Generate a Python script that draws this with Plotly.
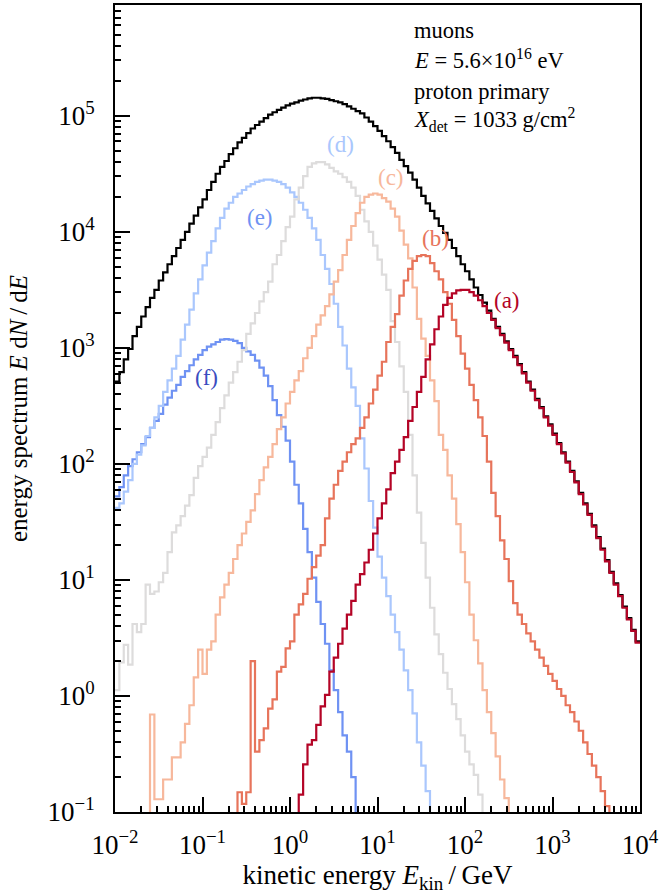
import numpy as np
import plotly.graph_objects as go

# 20 logarithmic bins per decade of kinetic energy, 1e-2 ... 1e4 GeV
bin_edges = np.logspace(-2, 4, 121)
N_BINS = len(bin_edges) - 1

# log10(E dN/dE) per bin; each list covers consecutive bins from its start index
start_total = 0
log_total = [
    2.71, 2.79, 2.90, 2.99, 3.10, 3.18, 3.27, 3.35, 3.43, 3.50,
    3.58, 3.65, 3.72, 3.79, 3.86, 3.93, 4.00, 4.07, 4.14, 4.21,
    4.28, 4.36, 4.43, 4.50, 4.56, 4.61, 4.67, 4.72, 4.77, 4.81,
    4.85, 4.89, 4.92, 4.95, 4.98, 5.01, 5.03, 5.05, 5.07, 5.09,
    5.105, 5.115, 5.13, 5.14, 5.15, 5.155, 5.155, 5.15, 5.145, 5.135,
    5.125, 5.115, 5.10, 5.08, 5.06, 5.04, 5.02, 4.985, 4.95, 4.91,
    4.87, 4.825, 4.78, 4.73, 4.68, 4.62, 4.565, 4.51, 4.45, 4.38,
    4.31, 4.245, 4.18, 4.115, 4.05, 3.99, 3.93, 3.86, 3.79, 3.72,
    3.66, 3.59, 3.52, 3.455, 3.39, 3.32, 3.25, 3.18, 3.12, 3.055,
    2.99, 2.93, 2.86, 2.79, 2.71, 2.64, 2.56, 2.49, 2.41, 2.34,
    2.26, 2.18, 2.10, 2.02, 1.94, 1.85, 1.75, 1.66, 1.57, 1.47,
    1.37, 1.27, 1.17, 1.07, 0.97, 0.87, 0.77, 0.67, 0.57, 0.47,
]

start_a = 41
log_a = [
    -1.30, -0.85, -0.59, -0.42, -0.38, -0.25, -0.09, 0.01, 0.21,
    0.33, 0.45, 0.58, 0.70, 0.82, 0.96, 1.05, 1.15, 1.26, 1.40,
    1.53, 1.66, 1.78, 1.92, 2.02, 2.12, 2.23, 2.37, 2.49, 2.62,
    2.75, 2.90, 3.03, 3.16, 3.27, 3.37, 3.43, 3.47, 3.495, 3.50,
    3.50, 3.48, 3.45, 3.41, 3.36, 3.30, 3.24, 3.17,
    3.11, 3.045, 2.98, 2.92, 2.85, 2.78, 2.70, 2.63, 2.55, 2.48,
    2.40, 2.33, 2.25, 2.17, 2.09, 2.01, 1.93, 1.84, 1.74, 1.65,
    1.56, 1.46, 1.36, 1.26, 1.16, 1.06, 0.96, 0.86, 0.76, 0.66,
    0.56, 0.46,
]

start_b = 28
log_b = [
    -0.83, -0.93, -0.83, 0.30,
    -0.48, -0.38, -0.28, -0.11, -0.03, 0.21, 0.25, 0.41,
    0.47, 0.70, 0.79, 0.88, 1.01, 1.11, 1.21, 1.30, 1.53, 1.70,
    1.82, 1.94, 2.02, 2.10, 2.17, 2.22, 2.31, 2.40, 2.52, 2.64,
    2.76, 2.88, 3.05, 3.18, 3.29, 3.45, 3.58, 3.68, 3.75, 3.79,
    3.80, 3.79, 3.73, 3.66, 3.59, 3.48, 3.38, 3.24, 3.10, 2.95,
    2.82, 2.68, 2.55, 2.40, 2.24, 2.02, 1.75, 1.55, 1.34, 1.18,
    0.99, 0.80, 0.70, 0.62, 0.54, 0.47, 0.40, 0.33, 0.26, 0.19,
    0.13, 0.06, 0.00, -0.08, -0.14, -0.22, -0.30, -0.40, -0.50, -0.60,
    -0.70, -0.82, -0.95, -1.30,
]

start_c = 8
log_c = [
    -0.16,
    -0.89, -0.89, -0.72, -0.72, -0.53, -0.53, -0.40, -0.24, -0.08, 0.16, 0.40,
    0.19, 0.40, 0.47, 0.70, 0.85, 0.96, 1.06, 1.18, 1.30, 1.40,
    1.50, 1.60, 1.74, 1.86, 1.97, 2.06, 2.17, 2.30, 2.40, 2.52,
    2.62, 2.72, 2.80, 2.91, 3.00, 3.10, 3.20, 3.28, 3.36, 3.46,
    3.57, 3.67, 3.80, 3.93, 4.05, 4.16, 4.25, 4.30, 4.32, 4.33,
    4.32, 4.29, 4.26, 4.20, 4.13, 4.01, 3.89, 3.77, 3.52, 3.25,
    3.08, 2.93, 2.72, 2.54, 2.25, 2.12, 1.90, 1.70, 1.48, 1.24,
    0.98, 0.70, 0.48, 0.28, 0.05, -0.14, -0.32, -0.52, -0.72, -0.88, -1.30,
]

start_d = 0
log_d = [
    0.05, 0.29, 0.44, 0.27, 0.62, 0.55, 0.62, 0.96, 0.88, 0.90,
    0.98, 1.06, 1.24, 1.41, 1.47, 1.55, 1.64, 1.73, 1.88, 1.98,
    2.06, 2.14, 2.25, 2.36, 2.48, 2.59, 2.70, 2.79, 2.88, 2.98,
    3.12, 3.21, 3.30, 3.40, 3.48, 3.57, 3.72, 3.80, 3.92, 4.04,
    4.13, 4.28, 4.38, 4.48, 4.56, 4.59, 4.60, 4.60, 4.58, 4.55,
    4.52, 4.50, 4.47, 4.43, 4.38, 4.31, 4.19, 4.09, 4.00, 3.88,
    3.76, 3.63, 3.50, 3.23, 3.05, 2.84, 2.62, 2.25, 1.90, 1.58,
    1.32, 1.02, 0.76, 0.53, 0.36, 0.20, 0.06, -0.07, -0.20, -0.34,
    -0.48, -0.59, -0.68, -0.85, -1.30,
]

start_e = 0
log_e = [
    1.62, 1.66, 1.76, 1.86, 2.00, 2.08, 2.16, 2.24, 2.31, 2.40,
    2.50, 2.62, 2.72, 2.82, 2.93, 3.07, 3.20, 3.33, 3.47, 3.59,
    3.71, 3.82, 3.92, 4.03, 4.12, 4.20, 4.25, 4.30, 4.33, 4.36,
    4.39, 4.41, 4.43, 4.44, 4.45, 4.45, 4.44, 4.43, 4.41, 4.38,
    4.34, 4.30, 4.25, 4.19, 4.12, 4.03, 3.93, 3.80, 3.68, 3.55,
    3.38, 3.18, 3.02, 2.82, 2.66, 2.50, 2.22, 1.96, 1.68, 1.45,
    1.20, 1.02, 0.86, 0.70, 0.55, 0.40, 0.22, 0.05, -0.15, -0.40,
    -0.60, -0.82, -1.30,
]

start_f = 0
log_f = [
    1.72, 1.80, 1.90, 1.98, 2.04, 2.10, 2.17, 2.23, 2.31, 2.37,
    2.43, 2.51, 2.57, 2.63, 2.68, 2.75, 2.80, 2.85, 2.90, 2.94,
    2.98, 3.01, 3.03, 3.05, 3.07, 3.075, 3.07, 3.06, 3.04, 3.00,
    2.97, 2.94, 2.89, 2.83, 2.76, 2.67, 2.55, 2.42, 2.32, 2.20,
    2.02, 1.82, 1.66, 1.44, 1.24, 1.02, 0.81, 0.62, 0.45, 0.22,
    0.05, -0.14, -0.34, -0.48, -0.70, -1.30,
]

# curve labels: text, colour, position (E in GeV, E dN/dE)
label_text = ["(a)", "(b)", "(c)", "(d)", "(e)", "(f)"]
label_colors = ["#b40426", "#e7745b", "#f7b89c", "#aac7fd", "#6f92f3", "#3b4cc0"]
label_E = [304, 46.0, 14.1, 3.79, 0.452, 0.112]
label_y = [2.57e3, 8.7e3, 2.93e4, 5.6e4, 1.33e4, 5.5e2]

line_colors = {"a": "#b40426", "b": "#e7745b", "c": "#f7b89c",
               "d": "#dddcdc", "e": "#aac7fd", "f": "#6f92f3"}

x_tick_vals = [1e-2, 1e-1, 1e0, 1e1, 1e2, 1e3, 1e4]
x_tick_text = ["10<sup>\u22122</sup>", "10<sup>\u22121</sup>", "10<sup>0</sup>",
               "10<sup>1</sup>", "10<sup>2</sup>", "10<sup>3</sup>", "10<sup>4</sup>"]
y_tick_vals = [1e-1, 1e0, 1e1, 1e2, 1e3, 1e4, 1e5]
y_tick_text = ["10<sup>\u22121</sup>", "10<sup>0</sup>", "10<sup>1</sup>",
               "10<sup>2</sup>", "10<sup>3</sup>", "10<sup>4</sup>", "10<sup>5</sup>"]

FLOOR = 1e-3  # below the visible range, closes the step outline


def step_outline(start, logvals):
    """Histogram outline (matplotlib histtype='step' style) for consecutive bins."""
    vals = list(10.0 ** np.asarray(logvals, dtype=float))
    n = len(vals)
    xs = list(bin_edges[start:start + n + 1])
    if start + n < N_BINS:
        ys = vals + [FLOOR]          # drop to the floor after the last bin
    else:
        ys = vals + [vals[-1]]       # runs into the right edge of the axis
    if start > 0:
        xs = [bin_edges[start]] + xs  # rise from the floor at the first bin
        ys = [FLOOR] + ys
    return xs, ys


FONT = "Liberation Serif"
fig = go.Figure()

series = [
    ("total", start_total, log_total, "black"),
    ("f", start_f, log_f, line_colors["f"]),
    ("e", start_e, log_e, line_colors["e"]),
    ("d", start_d, log_d, line_colors["d"]),
    ("c", start_c, log_c, line_colors["c"]),
    ("b", start_b, log_b, line_colors["b"]),
    ("a", start_a, log_a, line_colors["a"]),
]
for name, s, lv, col in series:
    xs, ys = step_outline(s, lv)
    fig.add_trace(go.Scatter(x=xs, y=ys, mode="lines", name=name,
                             line=dict(color=col, width=2.2, shape="hv"),
                             showlegend=False, hoverinfo="skip"))

for t, c, ex, ey in zip(label_text, label_colors, label_E, label_y):
    fig.add_annotation(x=np.log10(ex), y=np.log10(ey), text=t, showarrow=False,
                       font=dict(family=FONT, size=23, color=c),
                       xanchor="center", yanchor="middle")

info_lines = ["muons",
              "<i>E</i> = 5.6\u00d710<sup>16</sup> eV",
              "proton primary",
              "<i>X</i><sub>det</sub> = 1033 g/cm<sup>2</sup>"]
info_y = [0.969, 0.933, 0.8925, 0.858]
for txt, yy in zip(info_lines, info_y):
    fig.add_annotation(xref="paper", yref="paper", x=0.566, y=yy, text=txt,
                       showarrow=False, xanchor="left", yanchor="middle",
                       font=dict(family=FONT, size=22.5, color="black"))

minor_x = [m * 10.0 ** p for p in range(-2, 4) for m in range(2, 10)]
minor_y = [m * 10.0 ** p for p in range(-1, 6) for m in range(2, 10)]

axis_common = dict(
    type="log", showgrid=False, zeroline=False,
    showline=True, linecolor="black", linewidth=2, mirror=True,
    ticks="inside", ticklen=15, tickwidth=2, tickcolor="black",
    tickfont=dict(family=FONT, size=27, color="black"),
)

fig.update_xaxes(
    **axis_common, range=[-2, 4],
    tickmode="array", tickvals=x_tick_vals, ticktext=x_tick_text,
    ticklabelstandoff=8,
    minor=dict(tickmode="array", tickvals=minor_x, ticks="inside",
               ticklen=6, tickwidth=1.5, tickcolor="black", showgrid=False),
    title=dict(text="kinetic energy <i>E</i><sub>kin</sub>\u2009/\u2009GeV",
               font=dict(family=FONT, size=27, color="black"), standoff=6),
)
fig.update_yaxes(
    **axis_common, range=[-1, np.log10(9e5)],
    tickmode="array", tickvals=y_tick_vals, ticktext=y_tick_text,
    ticklabelstandoff=13,
    minor=dict(tickmode="array", tickvals=minor_y, ticks="inside",
               ticklen=6, tickwidth=1.5, tickcolor="black", showgrid=False),
    title=dict(text="energy spectrum <i>E</i> d<i>N</i>\u2009/\u2009d<i>E</i>",
               font=dict(family=FONT, size=25, color="black"), standoff=13),
)

fig.update_layout(
    width=662, height=894,
    margin=dict(l=115, r=21, t=3, b=82),
    paper_bgcolor="white", plot_bgcolor="white",
    showlegend=False,
)

fig.write_html("out.html")
